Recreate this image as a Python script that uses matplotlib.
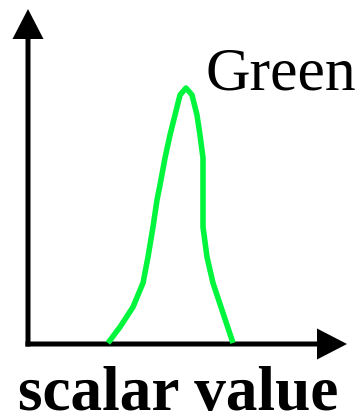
import matplotlib
matplotlib.use("Agg")
import matplotlib.pyplot as plt

# distribution curve, x = scalar value, y = height above the axis
curve_x = [80, 92, 105, 115, 120, 125, 129, 132, 137, 142, 147, 152, 158,
           164, 169, 172, 175, 175, 175, 175, 179, 185, 194, 205]
curve_y = [1, 17, 37, 61, 87, 117, 144, 159, 186, 209, 229, 249, 256,
           249, 229, 209, 186, 159, 132, 117, 87, 61, 34, 1]
curve_label = "Green"
x_label = "scalar value"

fig = plt.figure(figsize=(3.62, 4.17), dpi=100)
ax = fig.add_axes([0, 0, 1, 1])
ax.set_xlim(-28, 334)
ax.set_ylim(-73, 344)
ax.axis("off")

# axes drawn as arrows
ax.arrow(-2.5, 0, 321.5, 0, width=5, head_width=31, head_length=30,
         length_includes_head=True, fc="black", ec="none")
ax.arrow(0, -2.5, 0, 337.5, width=5, head_width=31, head_length=30,
         length_includes_head=True, fc="black", ec="none")

ax.plot(curve_x, curve_y, color="#00f53c", lw=4, solid_capstyle="butt",
        solid_joinstyle="round")

ax.text(177, 254, curve_label, family="Liberation Serif", fontsize=44.5,
        ha="left", va="baseline")
ax.text(-10, -66, x_label, family="Liberation Serif", fontsize=45.5,
        fontweight="bold", ha="left", va="baseline")

fig.savefig("out.png", dpi=100)
